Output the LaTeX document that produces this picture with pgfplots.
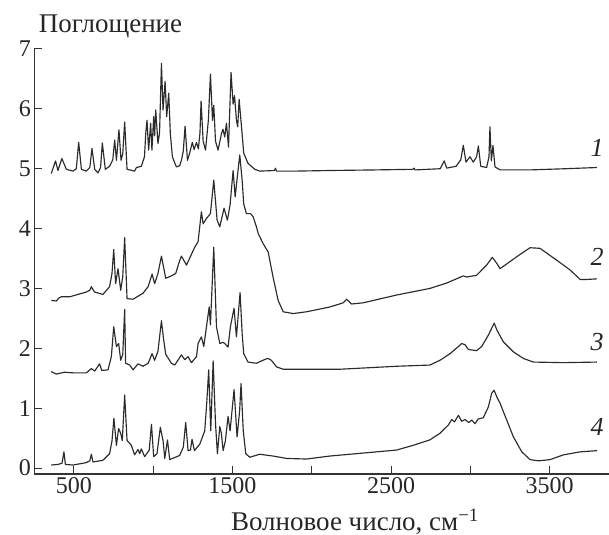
\documentclass[border=0pt]{standalone}
\usepackage{fontspec}
\setmainfont{Liberation Serif}
\usepackage{pgfplots}
\pgfplotsset{compat=1.18}

\definecolor{ink}{HTML}{2B2B2B}

\begin{document}
\begin{tikzpicture}
\begin{axis}[
  scale only axis,
  width=574.7bp, height=425bp,
  xmin=250, xmax=3875,
  ymin=-0.1, ymax=7,
  axis lines*=left,
  axis line style={line width=1.1bp, black!80},
  tick align=inside,
  major tick length=8bp,
  tick style={line width=1bp, black!80},
  xtick={500,1000,...,3500},
  xticklabels={500,,1500,,2500,,3500},
  ytick={0,1,...,7},
  /pgf/number format/assume math mode=true,
  tick label style={font=\fontsize{24bp}{28bp}\selectfont, text=black!85},
  label style={font=\fontsize{27bp}{30bp}\selectfont, text=black!85},
  xlabel={Волновое число, см\textsuperscript{−1}},
  xlabel style={at={(axis description cs:0.558,0)}, anchor=base, yshift=-56bp},
  ylabel={Поглощение},
  ylabel style={rotate=-90, at={(axis description cs:0,1)}, anchor=base west, yshift=17bp, xshift=1bp},
  clip=false,
  every axis plot post/.append style={ink, mark=none, line width=1.15bp, line join=round},
]

% spectrum 1
\addplot coordinates {
(357,4.92) (384,5.13) (399,4.97) (424,5.17) (452,4.99) (494,4.96) (515,5.00)
(530,5.44) (547,4.99) (578,4.96) (600,5.02) (614,5.34) (631,4.99) (652,4.93)
(668,5.02) (679,5.43) (698,4.99) (725,5.04) (745,5.15) (757,5.48) (768,5.14)
(784,5.65) (797,5.14) (808,5.25) (820,5.78) (835,4.99) (883,4.96) (894,5.02)
(925,5.04) (945,5.20) (953,5.59) (961,5.81) (971,5.31) (984,5.76) (992,5.31)
(1003,5.87) (1009,5.55) (1016,5.98) (1030,5.42) (1040,5.60) (1052,6.76)
(1062,5.98) (1075,6.46) (1085,5.87) (1098,6.26) (1108,5.59) (1121,5.20)
(1146,5.03) (1167,5.05) (1178,5.14) (1190,5.30) (1201,5.71) (1216,5.14)
(1230,5.26) (1247,5.44) (1258,5.32) (1273,5.44) (1285,5.33) (1295,5.60)
(1302,6.13) (1315,5.46) (1330,5.31) (1348,5.81) (1361,6.58) (1374,5.81)
(1382,6.06) (1393,5.46) (1409,5.31) (1431,5.59) (1440,5.66) (1451,5.53)
(1462,5.76) (1475,5.36) (1491,6.61) (1504,6.08) (1513,6.22) (1525,5.81)
(1533,5.70) (1542,6.16) (1557,5.70) (1571,5.26) (1598,5.09) (1641,4.99)
(1672,4.96) (1765,4.97) (1771,5.01) (1778,4.96) (1900,4.96) (2113,4.97)
(2400,4.98) (2638,4.99) (2645,5.01) (2652,4.98) (2810,5.00) (2836,5.13)
(2851,5.01) (2910,5.04) (2940,5.15) (2956,5.39) (2973,5.11) (2998,5.20)
(3019,5.11) (3040,5.20) (3051,5.38) (3066,5.04) (3103,5.02) (3118,5.20)
(3124,5.70) (3133,5.13) (3143,5.39) (3156,5.03) (3188,4.98) (3377,4.98)
(3600,5.00) (3798,5.02)
};

% spectrum 2
\addplot coordinates {
(357,2.80) (389,2.79) (405,2.84) (420,2.86) (473,2.86) (578,2.94) (600,2.97)
(610,3.03) (620,2.98) (631,2.94) (683,2.90) (725,3.03) (740,3.25) (751,3.65)
(763,3.08) (778,3.33) (795,2.97) (808,3.20) (820,3.85) (835,2.83) (873,2.82)
(936,2.92) (968,3.03) (993,3.24) (1009,3.08) (1030,3.25) (1052,3.54)
(1079,3.17) (1115,3.21) (1142,3.25) (1165,3.45) (1178,3.54) (1210,3.39)
(1262,3.69) (1283,3.78) (1304,4.28) (1315,4.08) (1336,4.17) (1361,4.25)
(1382,4.81) (1403,4.14) (1420,4.03) (1447,4.34) (1468,4.14) (1485,4.40)
(1504,4.97) (1517,4.53) (1530,4.85) (1546,5.23) (1561,4.81) (1571,4.41)
(1588,4.25) (1614,4.25) (1630,4.20) (1651,4.03) (1662,3.92) (1693,3.75)
(1725,3.61) (1756,3.19) (1788,2.80) (1820,2.61) (1883,2.58) (1967,2.61)
(2114,2.69) (2199,2.76) (2220,2.82) (2251,2.74) (2325,2.76) (2535,2.89)
(2745,3.00) (2851,3.09) (2956,3.21) (2977,3.19) (3040,3.22) (3103,3.39)
(3139,3.52) (3167,3.42) (3188,3.33) (3293,3.53) (3377,3.68) (3440,3.67)
(3546,3.47) (3629,3.31) (3693,3.15) (3735,3.15) (3798,3.16)
};

% spectrum 3
\addplot coordinates {
(357,1.61) (389,1.57) (441,1.60) (494,1.59) (578,1.59) (610,1.66) (631,1.62)
(662,1.74) (675,1.63) (715,1.64) (736,1.86) (751,2.36) (768,2.03) (782,2.08)
(795,1.80) (808,1.90) (820,2.65) (826,1.75) (852,1.72) (873,1.64) (904,1.74)
(936,1.70) (968,1.75) (993,1.91) (1009,1.80) (1030,1.95) (1052,2.46)
(1066,2.14) (1079,1.90) (1115,1.75) (1136,1.72) (1178,1.89) (1199,1.81)
(1220,1.86) (1241,1.76) (1273,1.86) (1283,2.08) (1304,2.19) (1319,2.03)
(1353,2.69) (1361,2.39) (1382,3.69) (1399,2.36) (1420,2.08) (1440,2.10)
(1451,2.08) (1472,2.02) (1487,2.36) (1510,2.67) (1525,2.19) (1548,2.93)
(1561,2.25) (1571,1.91) (1598,1.77) (1651,1.75) (1710,1.82) (1725,1.83)
(1745,1.80) (1778,1.69) (1820,1.65) (2177,1.65) (2535,1.70) (2745,1.72)
(2809,1.80) (2872,1.91) (2925,2.03) (2946,2.08) (2967,2.06) (2988,1.98)
(3040,1.96) (3072,2.03) (3114,2.22) (3151,2.42) (3167,2.31) (3208,2.11)
(3272,1.94) (3335,1.83) (3398,1.77) (3588,1.76) (3798,1.77)
};

% spectrum 4
\addplot coordinates {
(357,0.05) (400,0.06) (425,0.08) (437,0.27) (446,0.06) (494,0.05) (578,0.09)
(600,0.12) (610,0.23) (620,0.10) (683,0.13) (725,0.24) (740,0.45) (752,0.83)
(768,0.38) (782,0.66) (795,0.58) (805,0.46) (820,1.22) (835,0.46) (862,0.38)
(883,0.22) (904,0.31) (915,0.24) (925,0.32) (946,0.19) (975,0.30) (989,0.73)
(1003,0.19) (1024,0.24) (1045,0.68) (1062,0.46) (1073,0.16) (1090,0.47)
(1104,0.14) (1167,0.21) (1190,0.35) (1205,0.76) (1220,0.29) (1235,0.30)
(1245,0.48) (1260,0.29) (1294,0.40) (1325,0.62) (1338,1.10) (1350,1.64)
(1363,0.62) (1378,1.79) (1393,0.74) (1405,0.24) (1420,0.69) (1430,0.58)
(1441,0.29) (1455,0.45) (1472,0.86) (1485,0.62) (1510,1.31) (1529,0.52)
(1545,0.95) (1554,1.41) (1568,0.62) (1584,0.24) (1609,0.18) (1672,0.23)
(1756,0.20) (1841,0.16) (1967,0.15) (2114,0.20) (2325,0.25) (2535,0.30)
(2641,0.38) (2745,0.47) (2809,0.58) (2862,0.72) (2883,0.81) (2900,0.77)
(2925,0.88) (2946,0.78) (2967,0.81) (2990,0.76) (3010,0.80) (3030,0.74)
(3050,0.82) (3082,0.84) (3114,1.02) (3135,1.25) (3150,1.30) (3167,1.19)
(3188,1.08) (3230,0.80) (3272,0.52) (3325,0.27) (3377,0.14) (3430,0.12)
(3503,0.14) (3588,0.22) (3693,0.27) (3798,0.29)
};

% curve numbers
\begin{scope}[every node/.style={font=\fontsize{26bp}{30bp}\selectfont\itshape, text=black!85}]
\node at (axis cs:3800,5.34) {1};
\node at (axis cs:3800,3.53) {2};
\node at (axis cs:3800,2.11) {3};
\node at (axis cs:3800,0.69) {4};
\end{scope}
\end{axis}
\pgfresetboundingbox
\useasboundingbox (-34.3bp,-61bp) rectangle (574.7bp,474bp);
\end{tikzpicture}
\end{document}
